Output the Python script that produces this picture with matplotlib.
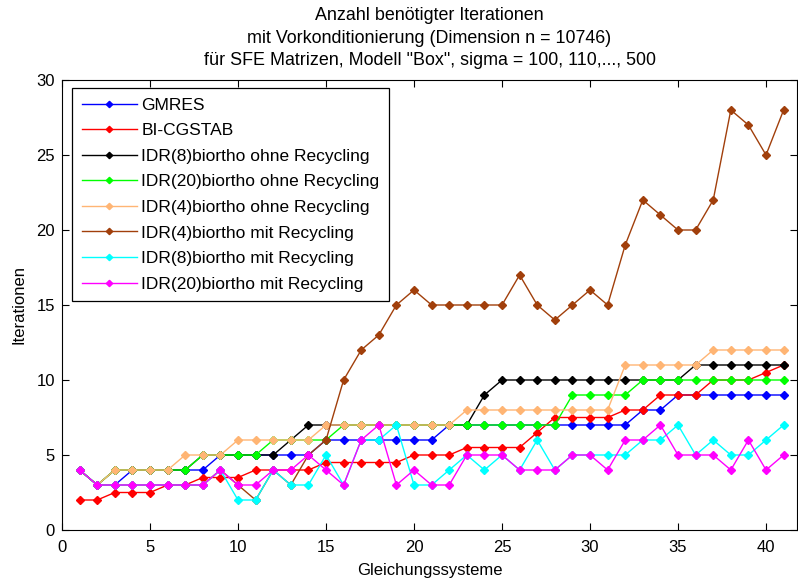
import numpy as np
import matplotlib
matplotlib.use('Agg')
import matplotlib.pyplot as plt

plt.rcParams['font.family'] = ['Liberation Sans', 'DejaVu Sans']

x = np.arange(1, 42)

gmres = [4, 3, 3, 4, 4, 4, 4, 4, 5, 5, 5, 5, 5, 5, 6, 6, 6, 6, 6, 6,
         6, 7, 7, 7, 7, 7, 7, 7, 7, 7, 7, 7, 8, 8, 9, 9, 9, 9, 9, 9, 9]
bicgstab = [2, 2, 2.5, 2.5, 2.5, 3, 3, 3.5, 3.5, 3.5, 4, 4, 4, 4, 4.5, 4.5, 4.5, 4.5, 4.5, 5,
            5, 5, 5.5, 5.5, 5.5, 5.5, 6.5, 7.5, 7.5, 7.5, 7.5, 8, 8, 9, 9, 9, 10, 10, 10, 10.5, 11]
idr8_ohne = [4, 3, 4, 4, 4, 4, 4, 5, 5, 5, 5, 5, 6, 7, 7, 7, 7, 7, 7, 7,
             7, 7, 7, 9, 10, 10, 10, 10, 10, 10, 10, 10, 10, 10, 10, 11, 11, 11, 11, 11, 11]
idr20_ohne = [4, 3, 4, 4, 4, 4, 4, 5, 5, 5, 5, 6, 6, 6, 6, 7, 7, 7, 7, 7,
              7, 7, 7, 7, 7, 7, 7, 7, 9, 9, 9, 9, 10, 10, 10, 10, 10, 10, 10, 10, 10]
idr4_ohne = [4, 3, 4, 4, 4, 4, 5, 5, 5, 6, 6, 6, 6, 6, 7, 7, 7, 7, 7, 7,
             7, 7, 8, 8, 8, 8, 8, 8, 8, 8, 8, 11, 11, 11, 11, 11, 12, 12, 12, 12, 12]
idr4_mit = [4, 3, 3, 3, 3, 3, 3, 3, 4, 3, 2, 4, 3, 5, 6, 10, 12, 13, 15, 16,
            15, 15, 15, 15, 15, 17, 15, 14, 15, 16, 15, 19, 22, 21, 20, 20, 22, 28, 27, 25, 28]
idr8_mit = [4, 3, 3, 3, 3, 3, 3, 3, 4, 2, 2, 4, 3, 3, 5, 3, 6, 6, 7, 3,
            3, 4, 5, 4, 5, 4, 6, 4, 5, 5, 5, 5, 6, 6, 7, 5, 6, 5, 5, 6, 7]
idr20_mit = [4, 3, 3, 3, 3, 3, 3, 3, 4, 3, 3, 4, 4, 5, 4, 3, 6, 7, 3, 4,
             3, 3, 5, 5, 5, 4, 4, 4, 5, 5, 4, 6, 6, 7, 5, 5, 5, 4, 6, 4, 5]

series = [
    (gmres, 'GMRES', '#0000ff'),
    (bicgstab, 'BI-CGSTAB', '#ff0000'),
    (idr8_ohne, 'IDR(8)biortho ohne Recycling', '#000000'),
    (idr20_ohne, 'IDR(20)biortho ohne Recycling', '#00ff00'),
    (idr4_ohne, 'IDR(4)biortho ohne Recycling', '#ffb574'),
    (idr4_mit, 'IDR(4)biortho mit Recycling', '#a13f0b'),
    (idr8_mit, 'IDR(8)biortho mit Recycling', '#00ffff'),
    (idr20_mit, 'IDR(20)biortho mit Recycling', '#ff00ff'),
]

fig = plt.figure(figsize=(7.98, 5.81), dpi=100)
ax = fig.add_axes([62/798, 1 - 530/581, 735/798, 450/581])

for vals, name, col in series:
    ax.plot(x, vals, color=col, lw=1.0, marker='D', ms=4.3, mfc=col, mec=col, label=name)

ax.set_xlim(0, 41.76)
ax.set_ylim(0, 30)
ax.set_xticks(range(0, 41, 5))
ax.set_yticks(range(0, 31, 5))
ax.tick_params(direction='in', top=True, right=True, labelsize=12, length=5, width=0.8)
ax.tick_params(axis='x', pad=7)
ax.tick_params(axis='y', pad=5)
for s in ax.spines.values():
    s.set_linewidth(0.8)

ax.set_xlabel('Gleichungssysteme', fontsize=12, labelpad=6)
ax.set_ylabel('Iterationen', fontsize=12, labelpad=7)
ax.set_title('Anzahl benötigter Iterationen\nmit Vorkonditionierung (Dimension n = 10746)\n'
             'für SFE Matrizen, Modell "Box", sigma = 100, 110,..., 500',
             fontsize=12.9, linespacing=1.4, pad=11)

leg = ax.legend(loc='upper left', bbox_to_anchor=(10/735, 1 - 8/450), borderaxespad=0,
                fontsize=12.5, fancybox=False, edgecolor='black', framealpha=1,
                handlelength=3.2, borderpad=0.55, labelspacing=0.6, handletextpad=0.25,
                markerscale=0.75)
leg.get_frame().set_linewidth(0.9)

fig.savefig('out.png', dpi=100)
